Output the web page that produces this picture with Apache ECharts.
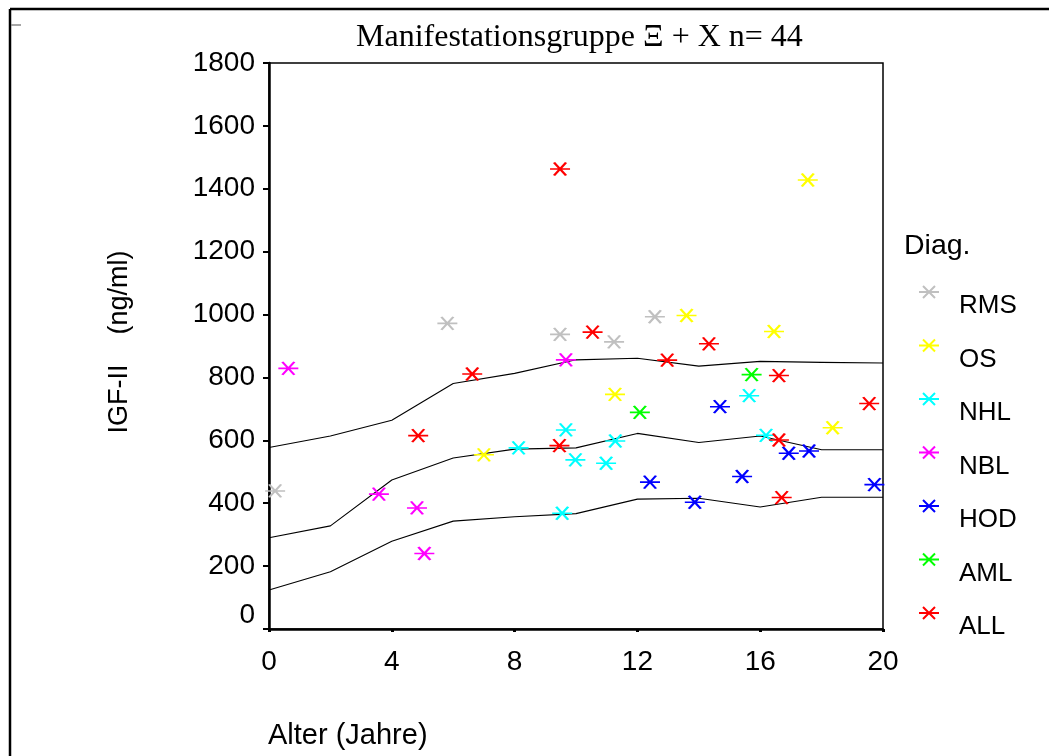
<!DOCTYPE html>
<html><head><meta charset="utf-8">
<script src="https://cdn.jsdelivr.net/npm/echarts@6/dist/echarts.min.js"></script>
<style>html,body{margin:0;padding:0;background:#fff}#c{width:1049px;height:756px}</style>
</head><body><div id="c"></div>
<script>
const titleText = 'Manifestationsgruppe \u039E + X n= 44';
const xAxisTitle = 'Alter (Jahre)';
const yAxisTitle = 'IGF-II    (ng/ml)';
const legendTitle = 'Diag.';
const xTicks = [0, 4, 8, 12, 16, 20];
const yTicks = [0, 200, 400, 600, 800, 1000, 1200, 1400, 1600, 1800];
const groups = ['RMS', 'OS', 'NHL', 'NBL', 'HOD', 'AML', 'ALL'];

// points: [age, IGF-II]
const RMS = [[0.2, 439], [5.81, 972], [9.48, 937], [11.24, 913], [12.57, 993]];
const OS  = [[7.0, 554], [11.27, 746], [13.6, 997], [16.45, 946], [17.55, 1428], [18.36, 640]];
const NHL = [[8.13, 576], [9.55, 368], [9.67, 633], [9.98, 538], [10.98, 527], [11.28, 598], [15.64, 742], [16.19, 616]];
const NBL = [[0.63, 829], [3.58, 429], [4.82, 385], [5.06, 240], [9.67, 856]];
const HOD = [[12.41, 467], [13.87, 403], [14.69, 707], [15.41, 485], [16.93, 559], [17.59, 566], [19.72, 459]];
const AML = [[12.08, 689], [15.72, 809]];
const ALL = [[4.86, 615], [6.62, 811], [9.46, 583], [9.48, 1463], [10.54, 944], [12.97, 855], [14.33, 907], [16.61, 806], [16.61, 601], [16.7, 418], [19.55, 717]];

// reference curves
const curveAges   = [0, 2, 4, 6, 8, 10, 12, 14, 16, 18, 20];
const upperCurve  = [577, 614, 664, 781, 813, 856, 861, 836, 851, 848, 846];
const middleCurve = [290, 328, 474, 544, 572, 576, 622, 593, 614, 570, 570];
const lowerCurve  = [124, 182, 279, 343, 357, 367, 413, 416, 388, 419, 419];

const groupData = { RMS, OS, NHL, NBL, HOD, AML, ALL };
const groupColors = { RMS: '#c0c0c0', OS: '#ffff00', NHL: '#00ffff', NBL: '#ff00ff', HOD: '#0000ff', AML: '#00ff00', ALL: '#ff0000' };
const STAR = 'path://M0,6 L20,6 M4,0 L16,12 M16,0 L4,12';
const SANS = 'Liberation Sans, Arial, sans-serif';
const SERIF = 'Liberation Serif, Times New Roman, serif';

const series = groups.map(g => ({
  name: g,
  type: 'scatter',
  data: groupData[g],
  symbol: STAR,
  symbolSize: [20, 13],
  itemStyle: { color: groupColors[g], borderColor: groupColors[g], borderWidth: 2, opacity: 1 },
  emphasis: { disabled: true },
  z: 3
}));
[upperCurve, middleCurve, lowerCurve].forEach((c, i) => {
  series.push({
    name: 'curve' + i,
    type: 'line',
    data: curveAges.map((a, k) => [a, c[k]]),
    showSymbol: false,
    symbol: 'none',
    lineStyle: { color: '#000', width: 1.1 },
    silent: true,
    z: 2
  });
});

const chart = echarts.init(document.getElementById('c'), null, { renderer: 'canvas' });
chart.setOption({
  animation: false,
  backgroundColor: '#fff',
  title: {
    text: titleText,
    left: 351, top: 17,
    textStyle: { fontFamily: SERIF, fontSize: 32, fontWeight: 'normal', color: '#000' }
  },
  grid: { left: 269, top: 63, right: 166, bottom: 127, show: true, borderColor: '#000', borderWidth: 1.5, backgroundColor: 'transparent' },
  xAxis: {
    type: 'value',
    min: xTicks[0], max: xTicks[xTicks.length - 1], interval: xTicks[1] - xTicks[0],
    axisLine: { show: true, onZero: false, lineStyle: { color: '#000', width: 2.5 } },
    axisTick: { show: true, length: 3, lineStyle: { color: '#000', width: 3 } },
    axisLabel: { color: '#000', fontFamily: SANS, fontSize: 28, margin: 19, formatter: v => String(v) },
    splitLine: { show: false }
  },
  yAxis: {
    type: 'value',
    min: yTicks[0], max: yTicks[yTicks.length - 1], interval: yTicks[1] - yTicks[0],
    name: yAxisTitle,
    nameLocation: 'middle',
    nameGap: 136,
    nameTextStyle: { color: '#000', fontFamily: SANS, fontSize: 27, padding: [0, 0, 0, 8] },
    axisLine: { show: true, onZero: false, lineStyle: { color: '#000', width: 2.5 } },
    axisTick: { show: true, length: 6, lineStyle: { color: '#000', width: 2 } },
    axisLabel: { color: '#000', fontFamily: SANS, fontSize: 28, margin: 14, verticalAlignMinLabel: 'bottom', formatter: v => String(v) },
    splitLine: { show: false }
  },
  legend: {
    data: groups,
    orient: 'vertical',
    left: 918, top: 265,
    padding: 0,
    itemWidth: 20, itemHeight: 13, itemGap: -0.5,
    selectedMode: false,
    formatter: '{t|{name}}',
    textStyle: {
      color: '#000', fontFamily: SANS, fontSize: 26,
      rich: { t: { color: '#000', fontFamily: SANS, fontSize: 26, lineHeight: 30, padding: [28, 0, 0, 15] } }
    }
  },
  graphic: [
    { type: 'line', shape: { x1: 10, y1: 9, x2: 1049, y2: 9 }, style: { stroke: '#000', lineWidth: 2.5 } },
    { type: 'line', shape: { x1: 10, y1: 9, x2: 10, y2: 756 }, style: { stroke: '#000', lineWidth: 2.5 } },
    { type: 'line', shape: { x1: 11, y1: 25, x2: 21, y2: 25 }, style: { stroke: '#888', lineWidth: 1.5 } },
    { type: 'text', left: 904, top: 232, style: { text: legendTitle, fill: '#000', font: '28.5px ' + SANS } },
    { type: 'text', left: 268, top: 721, style: { text: xAxisTitle, fill: '#000', font: '29px ' + SANS } }
  ],
  series
});
</script>
</body></html>
